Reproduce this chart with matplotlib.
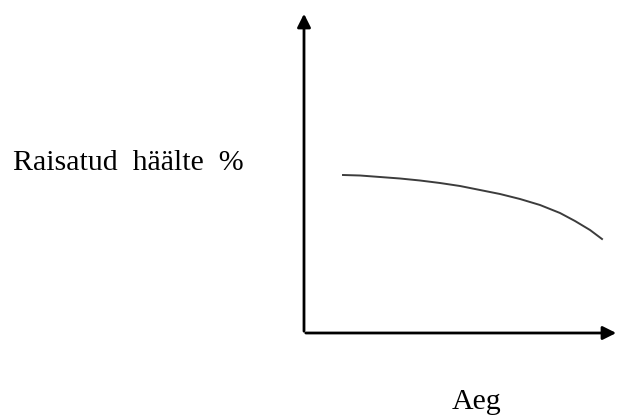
import matplotlib
matplotlib.use('Agg')
import matplotlib.pyplot as plt

# curve (time, share of votes)
aeg = [39, 56, 76, 96, 116, 136, 156, 176, 196, 216, 236, 256, 271, 286, 298]
haaled = [158, 157.5, 156, 154.5, 152.5, 150, 147, 143, 139, 134, 128, 120, 112, 103, 94]

plt.rcParams['font.family'] = ['Liberation Serif', 'DejaVu Serif']

fig = plt.figure(figsize=(6.17, 4.16), dpi=100)
ax = fig.add_axes([0, 0, 1, 1])
ax.set_xlim(-304, 313)
ax.set_ylim(-83, 333)
ax.axis('off')

# axes with arrow heads
ax.annotate('', xy=(315, 0), xytext=(-1, 0), annotation_clip=False,
            arrowprops=dict(arrowstyle='-|>', color='black', lw=2, mutation_scale=20))
ax.annotate('', xy=(0, 322), xytext=(0, -1), annotation_clip=False,
            arrowprops=dict(arrowstyle='-|>', color='black', lw=2, mutation_scale=20))

ax.plot(aeg, haaled, color='#3c3c3c', lw=1.4)

ax.text(-291, 163, 'Raisatud  häälte  %', fontsize=21.5, va='baseline', ha='left')
ax.text(173, -76, 'Aeg', fontsize=21.5, va='baseline', ha='center')

fig.savefig('out.png', dpi=100)
